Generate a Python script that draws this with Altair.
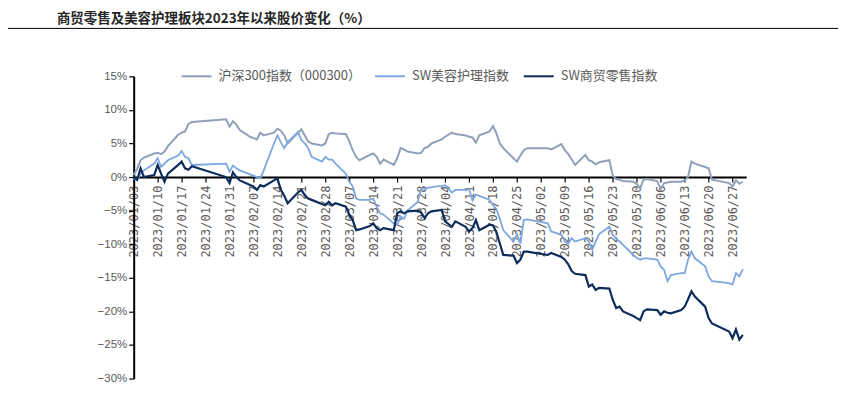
import altair as alt
import pandas as pd

dates = [
    "2023-01-03", "2023-01-04", "2023-01-05", "2023-01-06", "2023-01-09", "2023-01-10", "2023-01-11", "2023-01-12",
    "2023-01-13", "2023-01-16", "2023-01-17", "2023-01-18", "2023-01-19", "2023-01-20", "2023-01-30", "2023-01-31",
    "2023-02-01", "2023-02-02", "2023-02-03", "2023-02-06", "2023-02-07", "2023-02-08", "2023-02-09", "2023-02-10",
    "2023-02-13", "2023-02-14", "2023-02-15", "2023-02-16", "2023-02-17", "2023-02-20", "2023-02-21", "2023-02-22",
    "2023-02-23", "2023-02-24", "2023-02-27", "2023-02-28",
    "2023-03-01", "2023-03-02", "2023-03-03", "2023-03-06", "2023-03-07", "2023-03-08", "2023-03-09", "2023-03-10",
    "2023-03-13", "2023-03-14", "2023-03-15", "2023-03-16", "2023-03-17", "2023-03-20", "2023-03-21", "2023-03-22",
    "2023-03-23", "2023-03-24", "2023-03-27", "2023-03-28", "2023-03-29", "2023-03-30", "2023-03-31",
    "2023-04-03", "2023-04-04", "2023-04-06", "2023-04-07", "2023-04-10", "2023-04-11", "2023-04-12", "2023-04-13",
    "2023-04-14", "2023-04-17", "2023-04-18", "2023-04-19", "2023-04-20", "2023-04-21", "2023-04-24", "2023-04-25",
    "2023-04-26", "2023-04-27", "2023-04-28",
    "2023-05-04", "2023-05-05", "2023-05-08", "2023-05-09", "2023-05-10", "2023-05-11", "2023-05-12", "2023-05-15",
    "2023-05-16", "2023-05-17", "2023-05-18", "2023-05-19", "2023-05-22", "2023-05-23", "2023-05-24", "2023-05-25",
    "2023-05-26", "2023-05-29", "2023-05-30", "2023-05-31",
    "2023-06-01", "2023-06-02", "2023-06-05", "2023-06-06", "2023-06-07", "2023-06-08", "2023-06-09", "2023-06-12",
    "2023-06-13", "2023-06-14", "2023-06-15", "2023-06-16", "2023-06-19", "2023-06-20", "2023-06-21", "2023-06-26",
    "2023-06-27", "2023-06-28", "2023-06-29", "2023-06-30",
]

# 沪深300指数（000300）, % change since 2023-01-03
hs300 = [
    0.3, 1.2, 2.5, 2.9, 3.5, 3.6, 3.4, 3.8, 4.6, 6.3, 6.6, 6.8, 7.9, 8.2, 8.6, 7.5,
    8.3, 7.8, 7.0, 6.0, 5.8, 5.6, 6.6, 6.2, 6.6, 7.2, 6.9, 6.2, 5.0, 6.6, 7.1, 6.2, 5.3, 5.0, 4.7, 5.0,
    6.4, 6.6, 6.5, 6.4, 5.3, 4.0, 3.0, 2.5, 3.3, 3.5, 3.0, 2.0, 2.6, 1.8, 2.8, 4.3, 4.1, 3.8, 3.5, 3.6, 4.3, 4.5, 5.0,
    5.6, 6.0, 6.6, 6.4, 6.2, 6.0, 5.9, 5.1, 6.2, 6.8, 7.6, 6.5, 5.0, 4.3, 2.8, 2.3, 3.2, 4.0, 4.3,
    4.3, 4.1, 4.9, 4.0, 3.4, 2.6, 1.8, 3.3, 2.5, 2.3, 1.9, 2.2, 2.5, 0.2, -0.3, -0.4, -0.6, -0.7, -1.0, -1.7,
    -0.4, -0.3, -0.6, -1.8, -0.9, -0.8, -0.7, -0.7, -0.5, 0.0, 2.3, 2.0, 1.5, 1.3, -0.4, -0.9, -1.4, -0.5, -1.0, -0.7,
]

# SW美容护理指数
beauty = [
    -0.2, -0.5, 0.5, 1.0, 2.0, 2.8, 1.5, 2.0, 2.5, 3.2, 3.9, 3.0, 2.8, 1.8, 2.0, 0.8,
    1.7, 1.3, 1.0, 0.4, 0.2, 0.0, -0.2, 1.0, 5.0, 6.2, 5.2, 4.3, 5.2, 6.7, 5.5, 5.0, 4.3, 3.0, 2.3, 3.0,
    2.6, 2.6, 2.0, 0.5, -0.7, -1.4, -3.2, -3.4, -3.4, -3.2, -4.4, -5.4, -5.6, -6.9, -7.1, -5.9, -6.2, -5.0, -3.7, -1.8,
    -1.7, -1.6, -1.5,
    -1.3, -1.2, -2.3, -1.9, -1.9, -1.8, -3.5, -2.6, -2.8, -3.4, -4.2, -4.8, -6.2, -7.9, -9.6, -8.5, -9.9, -6.4, -6.3,
    -6.9, -8.1, -8.6, -9.6, -9.9, -9.1, -9.6, -9.1, -9.6, -10.8, -9.6, -8.5, -7.4, -8.6, -9.2, -9.6, -10.1, -11.6,
    -12.0, -12.3,
    -12.1, -12.1, -12.3, -13.3, -13.8, -15.5, -14.6, -14.3, -14.3, -12.3, -11.1, -12.1, -13.3, -14.8, -15.5, -15.8,
    -16.0, -14.3, -14.8, -13.7,
]

# SW商贸零售指数
retail = [
    0.0, -0.4, 1.3, 0.0, 0.3, 1.8, 0.5, -0.7, 0.5, 1.8, 2.3, 1.3, 1.1, 1.6, 0.0, -0.9,
    0.7, 0.0, -0.5, -1.2, -1.4, -1.9, -1.2, -1.4, -0.5, -0.2, -1.9, -2.8, -3.9, -2.3, -1.9, -2.7, -3.2, -3.4, -4.0, -4.2,
    -3.7, -4.2, -3.9, -4.4, -5.6, -6.4, -7.9, -7.8, -7.3, -6.9, -7.6, -7.9, -7.6, -7.9, -5.4, -5.1, -5.4, -5.1, -5.0,
    -5.3, -6.1, -5.4, -5.1,
    -4.9, -6.6, -7.4, -6.6, -7.4, -8.1, -7.6, -6.4, -7.9, -7.1, -7.2, -8.2, -9.9, -11.6, -11.7, -12.8, -12.3, -11.1,
    -11.1,
    -11.6, -11.3, -11.9, -12.3, -13.0, -14.0, -14.4, -14.6, -16.3, -16.0, -16.8, -16.5, -16.6, -18.3, -19.5, -19.3,
    -20.0, -20.7, -21.0, -21.3,
    -20.0, -19.7, -19.8, -20.5, -20.0, -20.2, -20.3, -19.8, -19.3, -18.2, -17.0, -17.8, -19.3, -21.0, -21.8, -23.0,
    -24.0, -22.7, -24.2, -23.5,
]

series_names = ["沪深300指数（000300）", "SW美容护理指数", "SW商贸零售指数"]
series_colors = ["#8fa1b9", "#7ca7e0", "#0c2c5b"]
series_widths = [2.0, 1.8, 2.2]

tick_dates = [
    "2023-01-03", "2023-01-10", "2023-01-17", "2023-01-24", "2023-01-31", "2023-02-07", "2023-02-14",
    "2023-02-21", "2023-02-28", "2023-03-07", "2023-03-14", "2023-03-21", "2023-03-28", "2023-04-04",
    "2023-04-11", "2023-04-18", "2023-04-25", "2023-05-02", "2023-05-09", "2023-05-16", "2023-05-23",
    "2023-05-30", "2023-06-06", "2023-06-13", "2023-06-20", "2023-06-27",
]
y_ticks = [15, 10, 5, 0, -5, -10, -15, -20, -25, -30]
title_text = "商贸零售及美容护理板块2023年以来股价变化（%）"

assert len(dates) == len(hs300) == len(beauty) == len(retail)

frames = []
for name, vals in zip(series_names, [hs300, beauty, retail]):
    frames.append(pd.DataFrame({"date": dates, "series": name, "value": vals}))
df = pd.concat(frames, ignore_index=True)


def dt(s):
    y, m, d = (int(p) for p in s.split("-"))
    return alt.DateTime(year=y, month=m, date=d, utc=True)


x_enc = alt.X(
    "date:T",
    scale=alt.Scale(type="utc", domain=[dt("2023-01-03"), dt("2023-07-01")]),
    axis=alt.Axis(
        values=[dt(s) for s in tick_dates],
        format="%Y/%m/%d",
        labelAngle=-90,
        labelFont="DejaVu Sans Mono",
        labelFontSize=12,
        labelColor="#595959",
        labelPadding=3,
        labelFlush=False,
        labelOverlap=False,
        domainColor="#000000",
        domainWidth=2,
        tickColor="#000000",
        tickWidth=1.2,
        tickSize=5,
        offset=-202,
        grid=False,
        title=None,
    ),
)

y_enc = alt.Y(
    "value:Q",
    scale=alt.Scale(domain=[-30, 15], nice=False, zero=False),
    axis=alt.Axis(
        values=y_ticks,
        format="d",
        labelExpr="datum.label + '%'",
        labelFont="Liberation Sans",
        labelFontSize=11.5,
        labelColor="#595959",
        labelPadding=2,
        domainColor="#000000",
        domainWidth=2,
        tickColor="#000000",
        tickWidth=1.2,
        tickSize=5,
        grid=False,
        title=None,
    ),
)

color_enc = alt.Color(
    "series:N",
    scale=alt.Scale(domain=series_names, range=series_colors),
    legend=alt.Legend(
        orient="none",
        legendX=47,
        legendY=-16,
        direction="horizontal",
        title=None,
        symbolType="stroke",
        symbolStrokeWidth=2,
        symbolSize=900,
        labelFont="Noto Sans CJK SC",
        labelFontSize=13,
        labelColor="#595959",
        labelOffset=6,
        columnPadding=10,
        padding=0,
    ),
)

base = alt.Chart(df)
line_layers = []
for name, w in zip(series_names, series_widths):
    line_layers.append(
        base.transform_filter(alt.datum.series == name)
        .mark_line(strokeWidth=w)
        .encode(x=x_enc, y=y_enc, color=color_enc)
    )

one_row = pd.DataFrame({"k": [0]})

title_rule = alt.Chart(one_row).mark_rule(color="#000000", strokeWidth=1).encode(
    x=alt.value(-126), x2=alt.value(706), y=alt.value(-48)
)

title_mark = alt.Chart(one_row).mark_text(
    text=title_text,
    align="left",
    baseline="middle",
    font="Noto Sans CJK SC",
    fontSize=13.5,
    fontWeight="bold",
    color="#262626",
).encode(x=alt.value(-77), y=alt.value(-57))

chart = (
    alt.layer(title_rule, title_mark, *line_layers)
    .properties(
        width=614,
        height=303,
        autosize=alt.AutoSizeParams(type="none"),
        padding={"left": 126, "top": 68, "right": 92, "bottom": 8},
    )
    .configure_view(stroke=None)
)

chart.save("out.html", embed_options={"renderer": "svg", "actions": False})
